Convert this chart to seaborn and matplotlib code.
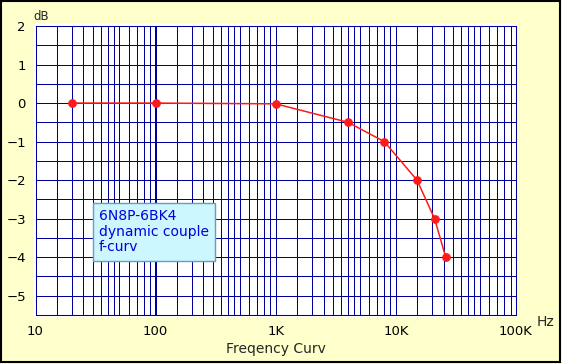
import numpy as np
import pandas as pd
import matplotlib
matplotlib.use("Agg")
import matplotlib.pyplot as plt
from matplotlib.patches import Rectangle
import seaborn as sns

# ---- data ----
freq_hz = [20, 100, 1000, 4000, 8000, 15000, 21000, 26000]
level_db = [0.0, 0.0, -0.02, -0.5, -1.0, -2.0, -3.0, -4.0]
x_tick_values = [10, 100, 1000, 10000, 100000]
x_tick_labels = ["10", "100", "1K", "10K", "100K"]
y_tick_values = [2, 1, 0, -1, -2, -3, -4, -5]
legend_lines = ["6N8P-6BK4", "dynamic couple", "f-curv"]
x_title = "Freqency Curv"

df = pd.DataFrame({"freq": freq_hz, "db": level_db})

sns.set_style("white")
plt.rcParams["font.family"] = ["DejaVu Sans"]

GRID = "#000099"
W, H = 562, 364
fig = plt.figure(figsize=(W / 100, H / 100), dpi=100)
fig.patch.set_facecolor("#ffffcc")

# outer frame
fig.patches.append(Rectangle((1 / W, 2 / H), (W - 3) / W, (H - 3) / H, transform=fig.transFigure,
                             fill=False, edgecolor="black", linewidth=1.5, zorder=-2))
# white plotting backdrop slightly larger than the grid
fig.patches.append(Rectangle((33 / W, 1 - 316.5 / H), (517 - 33) / W, (316.5 - 23) / H,
                             transform=fig.transFigure, facecolor="white", edgecolor="none", zorder=-2))

x0, x1, yt, yb = 35.5, 516, 26, 315
ax = fig.add_axes([x0 / W, 1 - yb / H, (x1 - x0) / W, (yb - yt) / H])
ax.set_zorder(1)
ax.set_facecolor("white")

ax.set_xscale("log")
ax.set_xlim(10, 100000)
ax.set_ylim(-5.5, 2)

GL = dict(color=GRID, zorder=1, antialiased=False)
LW = 0.6
# grid: integer multiples solid, half multiples dotted
for dec in [10, 100, 1000, 10000]:
    for m in range(2, 10):
        ax.axvline(dec * m, lw=LW, **GL)
    for m in [1.5, 2.5, 3.5, 4.5]:
        ax.axvline(dec * m, lw=LW, ls=(0, (1.2, 1.2)), **GL)
for v in x_tick_values:
    ax.axvline(v, lw=1.4 if v == 100 else LW, **GL)
for yv in np.arange(-5.5, 2.01, 0.5):
    ax.axhline(yv, lw=LW, **GL)

for s in ax.spines.values():
    s.set_color(GRID)
    s.set_linewidth(0.75)

sns.lineplot(data=df, x="freq", y="db", ax=ax, color="#ff1a1a", lw=1.1,
             marker="o", markersize=5.5, markeredgecolor="#ff1a1a", zorder=5)

ax.set_xticks(x_tick_values)
ax.set_xticklabels(x_tick_labels)
ax.xaxis.set_minor_locator(matplotlib.ticker.NullLocator())
ax.set_yticks(y_tick_values)
ax.set_yticklabels([str(v).replace("-", "\u2212") for v in y_tick_values])
ax.tick_params(axis="both", length=0, labelsize=9.5, colors="black")
ax.tick_params(axis="x", pad=7)
ax.tick_params(axis="y", pad=7)
ax.set_xlabel(x_title, fontsize=10, labelpad=3)
ax.set_ylabel("")

fig.text(33 / W, 1 - 17 / H, "dB", fontsize=8.5, ha="left", va="center")
fig.text(537 / W, 1 - 322 / H, "Hz", fontsize=10, ha="left", va="center")

ax.text((99 - x0) / (x1 - x0), 1 - (209 - yt) / (yb - yt), "\n".join(legend_lines),
        transform=ax.transAxes, fontsize=10, color="#0000dd", ha="left", va="top",
        linespacing=1.15, zorder=6,
        bbox=dict(boxstyle="square,pad=0.45", facecolor="#ccf7ff", edgecolor="#6b9bc0", lw=1.0))

fig.savefig("out.png", dpi=100, facecolor=fig.get_facecolor())
